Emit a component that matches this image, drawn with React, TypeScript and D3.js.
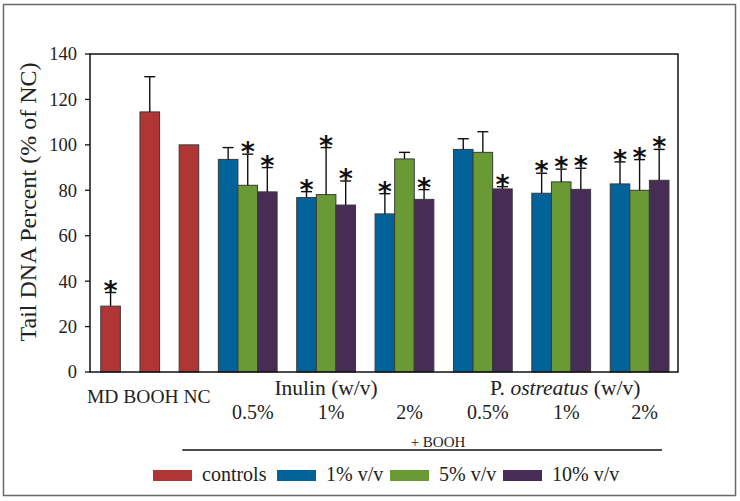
import React from "react";
import * as d3 from "d3";

// ---- data ----
const controlLabels = ["MD", "BOOH", "NC"];
const controlValues = [29, 114.5, 100];
const controlErrors = [6, 15.5, 0];
const controlSig = [true, false, false];

const groupNames = ["Inulin 0.5%", "Inulin 1%", "Inulin 2%", "P. ostreatus 0.5%", "P. ostreatus 1%", "P. ostreatus 2%"];
const doseLabels = ["0.5%", "1%", "2%", "0.5%", "1%", "2%"];
const seriesNames = ["1% v/v", "5% v/v", "10% v/v"];
const values1 = [93.6, 76.8, 69.6, 98.0, 78.7, 82.8];
const values5 = [82.2, 78.1, 93.8, 96.7, 83.7, 80.0];
const values10 = [79.3, 73.5, 76.0, 80.6, 80.4, 84.4];
const errors1 = [5.2, 2.6, 8.9, 4.7, 8.8, 9.7];
const errors5 = [13.7, 20.7, 2.9, 9.1, 5.6, 13.5];
const errors10 = [10.7, 10.6, 4.3, 1.0, 9.3, 13.6];
const sig1 = [false, true, true, false, true, true];
const sig5 = [true, true, false, false, true, true];
const sig10 = [true, true, true, true, true, true];
const yTicks = [0, 20, 40, 60, 80, 100, 120, 140];
const legendLabels = ["controls", "1% v/v", "5% v/v", "10% v/v"];

const COLORS = {
  controls: "#b03535",
  s1: "#02629a",
  s5: "#6a9a34",
  s10: "#472c55",
};
const seriesColors = [COLORS.s1, COLORS.s5, COLORS.s10];

type Bar = { slot: number; value: number; err: number; sig: boolean; color: string };

export default function App() {
  const W = 740, H = 501;
  const left = 90, right = 678, top = 54, bottom = 372;

  const y = d3.scaleLinear().domain([0, 140]).range([bottom, top]);
  const x = d3.scaleLinear().domain([-0.55, 29.46]).range([left, right]);
  const u = x(1) - x(0);

  const bars: Bar[] = [];
  controlValues.forEach((v, i) =>
    bars.push({ slot: i * 2, value: v, err: controlErrors[i], sig: controlSig[i], color: COLORS.controls })
  );
  const sv = [values1, values5, values10];
  const se = [errors1, errors5, errors10];
  const ss = [sig1, sig5, sig10];
  groupNames.forEach((_, g) => {
    for (let k = 0; k < 3; k++) {
      bars.push({ slot: 6 + g * 4 + k, value: sv[k][g], err: se[k][g], sig: ss[k][g], color: seriesColors[k] });
    }
  });
  const groupCenter = (g: number) => x(6 + g * 4 + 1.5);

  const serif = "'Liberation Serif', 'Times New Roman', serif";
  const legendX = [153, 277, 390, 503];

  return (
    <svg width={W} height={H} style={{ position: "absolute", left: 0, top: 0, background: "#fff" }}>
      <rect x={3.5} y={4.5} width={732} height={491} fill="#fff" stroke="#6a6a6a" strokeWidth={1.5} />

      {/* bars */}
      {bars.map((b, i) => (
        <rect key={"b" + i} x={x(b.slot)} y={y(b.value)} width={u} height={y(0) - y(b.value)}
          fill={b.color} stroke="#3a3a3a" strokeWidth={1} />
      ))}
      {/* error bars */}
      {bars.filter((b) => b.err > 0).map((b, i) => {
        const cx = x(b.slot + 0.5);
        return (
          <g key={"e" + i} stroke="#111" strokeWidth={1.4}>
            <line x1={cx} x2={cx} y1={y(b.value)} y2={y(b.value + b.err)} />
            <line x1={cx - 5.5} x2={cx + 5.5} y1={y(b.value + b.err)} y2={y(b.value + b.err)} />
          </g>
        );
      })}
      {/* significance */}
      {bars.filter((b) => b.sig).map((b, i) => (
        <text key={"s" + i} x={x(b.slot + 0.5)} y={y(b.value + b.err) + 7} textAnchor="middle"
          fontFamily="'DejaVu Sans', sans-serif" fontWeight="bold" fontSize={27} fill="#111">*</text>
      ))}

      {/* axes frame */}
      <rect x={left} y={top} width={right - left} height={bottom - top} fill="none" stroke="#111" strokeWidth={1.5} />
      {yTicks.map((t) => (
        <g key={"t" + t}>
          <line x1={left - 5} x2={left} y1={y(t)} y2={y(t)} stroke="#111" strokeWidth={1.3} />
          <text x={left - 13} y={y(t)} dy="0.35em" textAnchor="end" fontFamily={serif} fontSize={18.5} fill="#222">{t}</text>
        </g>
      ))}
      <text transform={`translate(36, 202) rotate(-90)`} textAnchor="middle"
        fontFamily={serif} fontSize={24} fill="#222">Tail DNA Percent (% of NC)</text>

      {/* x labels */}
      <text x={x(2.5) - 1} y={403} textAnchor="middle" fontFamily={serif} fontSize={19.5} fill="#222">
        {controlLabels.join(" ")}
      </text>
      <text x={groupCenter(1)} y={395} textAnchor="middle" fontFamily={serif} fontSize={21.5} fill="#222">Inulin (w/v)</text>
      <text x={groupCenter(4) + 4} y={395} textAnchor="middle" fontFamily={serif} fontSize={21.5} fill="#222">
        P. <tspan fontStyle="italic">ostreatus</tspan> (w/v)
      </text>
      {doseLabels.map((d, g) => (
        <text key={"d" + g} x={groupCenter(g) + 5} y={419} textAnchor="middle" fontFamily={serif} fontSize={20} fill="#222">{d}</text>
      ))}
      <text x={438} y={447} textAnchor="middle" fontFamily={serif} fontSize={15} fill="#222">+ BOOH</text>
      <line x1={x(6) - 36} x2={x(29) - 7} y1={450} y2={450} stroke="#111" strokeWidth={1.5} />

      {/* legend */}
      {legendLabels.map((l, i) => (
        <g key={"l" + i}>
          <rect x={legendX[i]} y={470} width={39} height={11} fill={[COLORS.controls, ...seriesColors][i]} />
          <text x={legendX[i] + 49} y={481} fontFamily={serif} fontSize={20} fill="#222">{l}</text>
        </g>
      ))}
    </svg>
  );
}
